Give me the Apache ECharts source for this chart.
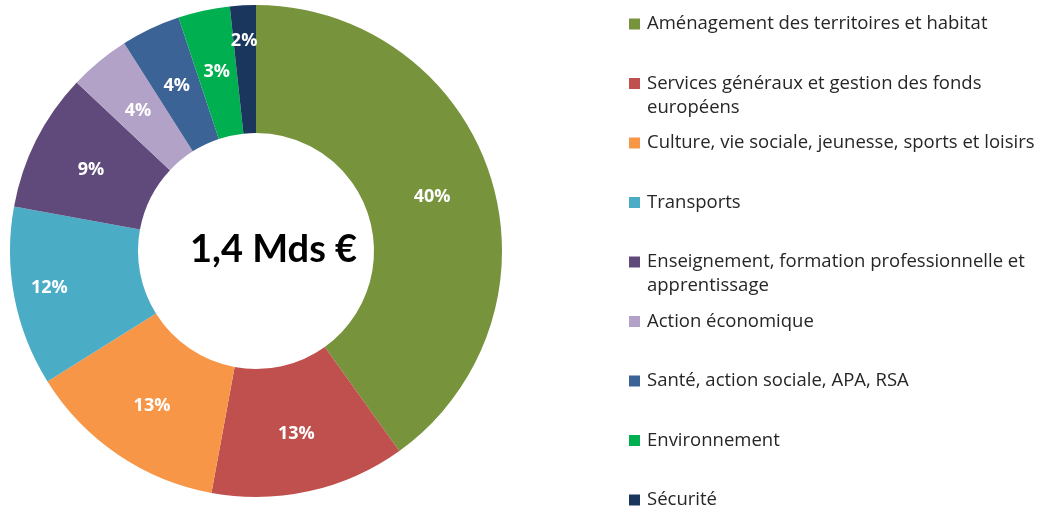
<!DOCTYPE html>
<html>
<head>
<meta charset="utf-8">
<script src="https://cdn.jsdelivr.net/npm/echarts@6/dist/echarts.min.js"></script>
<style>
  html, body { margin: 0; padding: 0; background: #fff; }
  #chart { width: 1043px; height: 514px; }
</style>
</head>
<body>
<div id="chart"></div>
<script>
// budget split, share of 1,4 Mds €
const categories = [
  'Aménagement des territoires et habitat',
  'Services généraux et gestion des fonds européens',
  'Culture, vie sociale, jeunesse, sports et loisirs',
  'Transports',
  'Enseignement, formation professionnelle et apprentissage',
  'Action économique',
  'Santé, action sociale, APA, RSA',
  'Environnement',
  'Sécurité'
]
const shares = [40.1, 12.8, 13.2, 11.8, 9.1, 4.0, 3.9, 3.4, 1.7]
const centerLabel = '1,4 Mds €'

const colors = ['#77933c', '#c0504d', '#f79646', '#4bacc6', '#604a7b', '#b3a2c7', '#3b6396', '#00b050', '#1b365d']
// legend lines as wrapped in the original (square stays on the first line)
const legendLines = {
  'Services généraux et gestion des fonds européens': ['Services généraux et gestion des fonds', 'européens'],
  'Enseignement, formation professionnelle et apprentissage': ['Enseignement, formation professionnelle et', 'apprentissage']
}
const LH = 24
const legendFont = { fontFamily: 'Open Sans', fontSize: 18.5, color: '#262626' }

const chart = echarts.init(document.getElementById('chart'))

const legendY = i => 24 + i * 59.5

const legends = categories.map((name, i) => ({
  orient: 'vertical',
  left: 629,
  top: legendY(i) - LH / 2,
  padding: 0,
  itemWidth: 11,
  itemHeight: 11,
  icon: 'rect',
  selectedMode: false,
  data: [name],
  formatter: n => legendLines[n] ? legendLines[n][0] : n,
  textStyle: Object.assign({ lineHeight: LH, padding: [0, 0, 0, 2] }, legendFont)
}))

const legendTails = []
categories.forEach((name, i) => {
  if (!legendLines[name]) return
  legendTails.push({
    type: 'text',
    x: 647,
    y: legendY(i) + LH,
    style: {
      text: legendLines[name][1],
      fontFamily: legendFont.fontFamily,
      fontSize: legendFont.fontSize,
      fill: legendFont.color,
      verticalAlign: 'middle'
    }
  })
})

chart.setOption({
  animation: false,
  color: colors,
  legend: legends,
  graphic: [{
    type: 'text',
    left: 190,
    top: 231,
    style: {
      text: centerLabel,
      font: 'bold 38px Lato',
      fill: '#000'
    }
  }].concat(legendTails),
  series: [{
    type: 'pie',
    center: [256, 251],
    radius: [118, 246],
    startAngle: 90,
    clockwise: true,
    avoidLabelOverlap: false,
    label: {
      show: true,
      position: 'inside',
      formatter: p => Math.round(p.value) + '%',
      color: '#fff',
      fontFamily: 'Open Sans',
      fontWeight: 'bold',
      fontSize: 18
    },
    // the thin slice and the left one have their label further out in the original
    labelLayout: p => p.dataIndex === 8 ? { dx: -2, dy: -25 } : p.dataIndex === 3 ? { dx: -25, dy: 2 } : { dy: 2 },
    labelLine: { show: false },
    itemStyle: { borderWidth: 0 },
    emphasis: { disabled: true },
    data: categories.map((name, i) => ({ name: name, value: shares[i] }))
  }]
})
</script>
</body>
</html>
